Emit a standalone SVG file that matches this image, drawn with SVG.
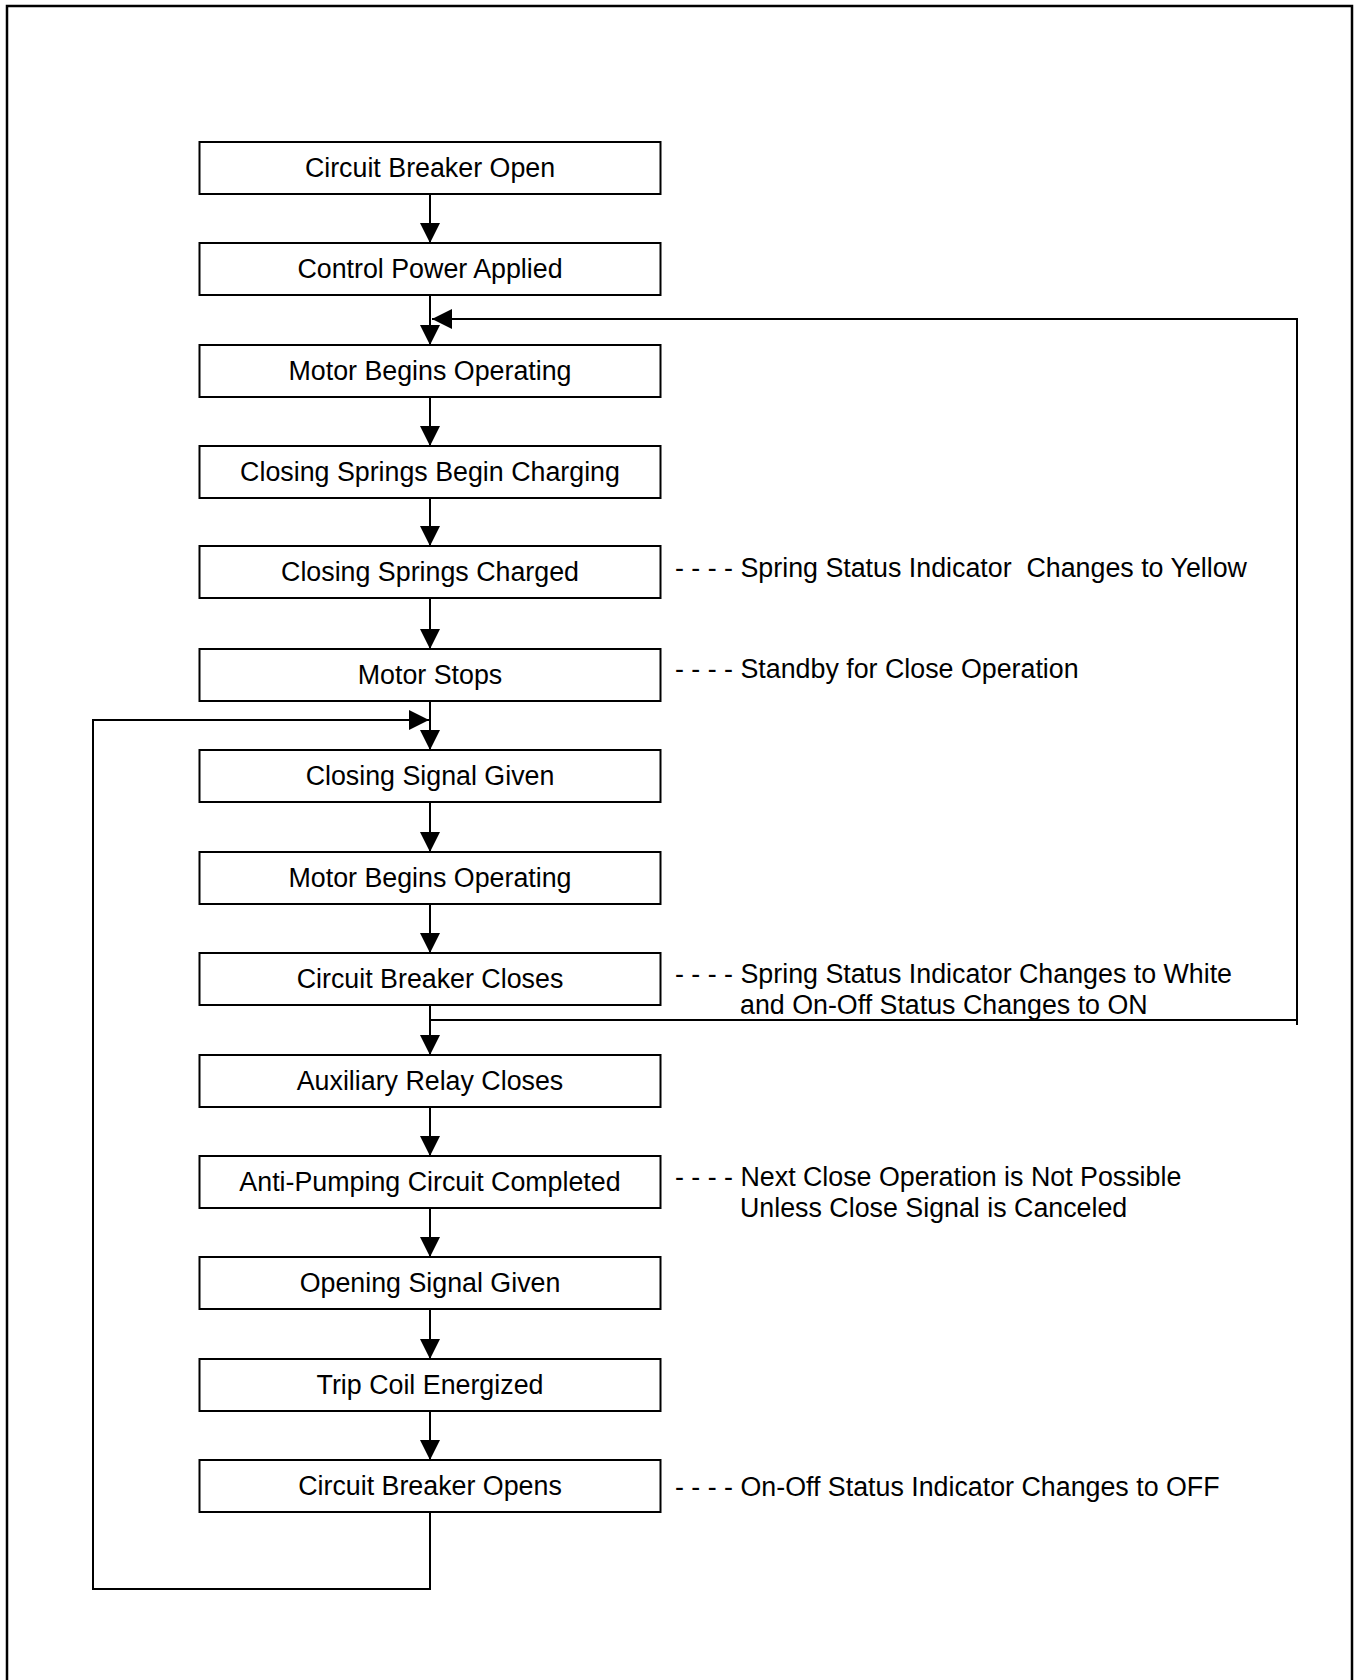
<svg xmlns="http://www.w3.org/2000/svg" width="1354" height="1680" viewBox="0 0 1354 1680">
<defs>
<style>
.box{fill:#fff;stroke:#000;stroke-width:2}
.lbl{font-family:"Liberation Sans",Arial,Helvetica,sans-serif;font-size:26.8px;fill:#000;text-anchor:middle}
.note{font-family:"Liberation Sans",Arial,Helvetica,sans-serif;font-size:26.8px;fill:#000;white-space:pre}
.conn{fill:none;stroke:#000;stroke-width:2}
.frame{fill:none;stroke:#000;stroke-width:2.5}
</style>
<marker id="arr" markerUnits="userSpaceOnUse" markerWidth="20" markerHeight="20" refX="20" refY="10" orient="auto" viewBox="0 0 20 20">
<path d="M0,0 L20,10 L0,20 Z" fill="#000"/>
</marker>
</defs>
<rect width="1354" height="1680" fill="#fff"/>
<rect class="frame" x="7" y="6" width="1345" height="1700"/>

<g id="connectors">
<line class="conn" x1="430" y1="194" x2="430" y2="243" marker-end="url(#arr)"/>
<line class="conn" x1="430" y1="295" x2="430" y2="345" marker-end="url(#arr)"/>
<line class="conn" x1="430" y1="397" x2="430" y2="446" marker-end="url(#arr)"/>
<line class="conn" x1="430" y1="498" x2="430" y2="546" marker-end="url(#arr)"/>
<line class="conn" x1="430" y1="598" x2="430" y2="649" marker-end="url(#arr)"/>
<line class="conn" x1="430" y1="701" x2="430" y2="750" marker-end="url(#arr)"/>
<line class="conn" x1="430" y1="802" x2="430" y2="852" marker-end="url(#arr)"/>
<line class="conn" x1="430" y1="904" x2="430" y2="953" marker-end="url(#arr)"/>
<line class="conn" x1="430" y1="1005" x2="430" y2="1055" marker-end="url(#arr)"/>
<line class="conn" x1="430" y1="1107" x2="430" y2="1156" marker-end="url(#arr)"/>
<line class="conn" x1="430" y1="1208" x2="430" y2="1257" marker-end="url(#arr)"/>
<line class="conn" x1="430" y1="1309" x2="430" y2="1359" marker-end="url(#arr)"/>
<line class="conn" x1="430" y1="1411" x2="430" y2="1460" marker-end="url(#arr)"/>
<path class="conn" d="M430,1020 H1297"/>
<path class="conn" d="M1297,1025 V319 H432" marker-end="url(#arr)"/>
<path class="conn" d="M430,1512 V1589 H93 V720 H429" marker-end="url(#arr)"/>
</g>

<g id="n1"><rect class="box" x="199.5" y="142" width="461" height="52"/><text class="lbl" x="430" y="177">Circuit Breaker Open</text></g>
<g id="n2"><rect class="box" x="199.5" y="243" width="461" height="52"/><text class="lbl" x="430" y="278">Control Power Applied</text></g>
<g id="n3"><rect class="box" x="199.5" y="345" width="461" height="52"/><text class="lbl" x="430" y="380">Motor Begins Operating</text></g>
<g id="n4"><rect class="box" x="199.5" y="446" width="461" height="52"/><text class="lbl" x="430" y="481">Closing Springs Begin Charging</text></g>
<g id="n5"><rect class="box" x="199.5" y="546" width="461" height="52"/><text class="lbl" x="430" y="581">Closing Springs Charged</text></g>
<g id="n6"><rect class="box" x="199.5" y="649" width="461" height="52"/><text class="lbl" x="430" y="684">Motor Stops</text></g>
<g id="n7"><rect class="box" x="199.5" y="750" width="461" height="52"/><text class="lbl" x="430" y="785">Closing Signal Given</text></g>
<g id="n8"><rect class="box" x="199.5" y="852" width="461" height="52"/><text class="lbl" x="430" y="887">Motor Begins Operating</text></g>
<g id="n9"><rect class="box" x="199.5" y="953" width="461" height="52"/><text class="lbl" x="430" y="988">Circuit Breaker Closes</text></g>
<g id="n10"><rect class="box" x="199.5" y="1055" width="461" height="52"/><text class="lbl" x="430" y="1090">Auxiliary Relay Closes</text></g>
<g id="n11"><rect class="box" x="199.5" y="1156" width="461" height="52"/><text class="lbl" x="430" y="1191">Anti-Pumping Circuit Completed</text></g>
<g id="n12"><rect class="box" x="199.5" y="1257" width="461" height="52"/><text class="lbl" x="430" y="1292">Opening Signal Given</text></g>
<g id="n13"><rect class="box" x="199.5" y="1359" width="461" height="52"/><text class="lbl" x="430" y="1394">Trip Coil Energized</text></g>
<g id="n14"><rect class="box" x="199.5" y="1460" width="461" height="52"/><text class="lbl" x="430" y="1495">Circuit Breaker Opens</text></g>

<g id="notes">
<text class="note" x="675" y="577">- - - - Spring Status Indicator  Changes to Yellow</text>
<text class="note" x="675" y="678">- - - - Standby for Close Operation</text>
<text class="note" x="675" y="983">- - - - Spring Status Indicator Changes to White<tspan x="740" y="1014">and On-Off Status Changes to ON</tspan></text>
<text class="note" x="675" y="1186">- - - - Next Close Operation is Not Possible<tspan x="740" y="1217">Unless Close Signal is Canceled</tspan></text>
<text class="note" x="675" y="1496">- - - - On-Off Status Indicator Changes to OFF</text>
</g>
</svg>
